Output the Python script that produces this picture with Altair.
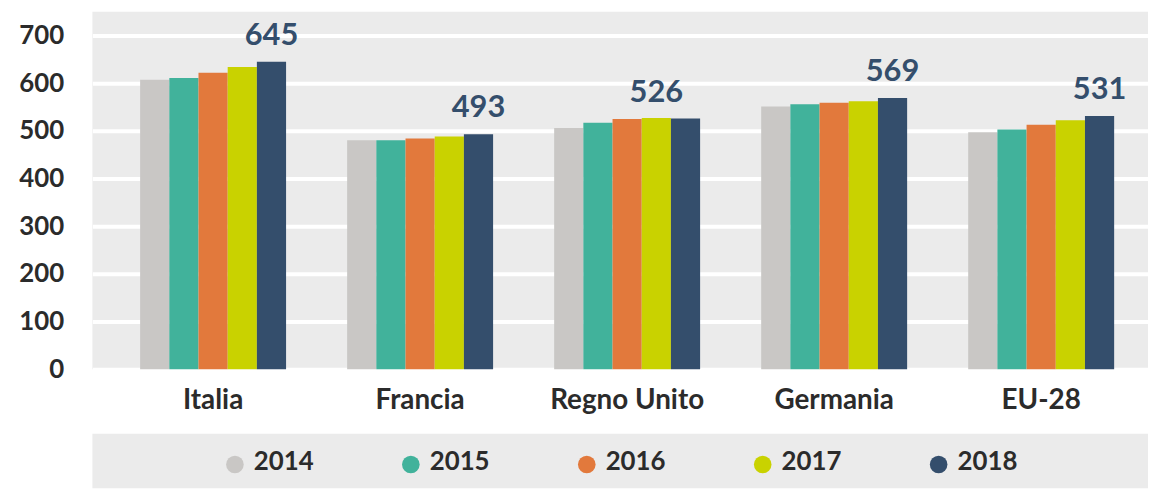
import altair as alt
import pandas as pd

countries = ["Italia", "Francia", "Regno Unito", "Germania", "EU-28"]
years = [2014, 2015, 2016, 2017, 2018]
v2014 = [607, 480, 506, 551, 497]
v2015 = [611, 480, 517, 556, 503]
v2016 = [622, 484, 525, 559, 513]
v2017 = [634, 488, 527, 562, 522]
v2018 = [645, 493, 526, 569, 531]

label_countries = ["Italia", "Francia", "Regno Unito", "Germania", "EU-28"]
label_years = [2018, 2018, 2017, 2018, 2018]
label_values = [645, 493, 526, 569, 531]

colors = ["#c9c7c5", "#41b29b", "#e2793c", "#c9d200", "#344e6c"]
y_ticks = [0, 100, 200, 300, 400, 500, 600, 700]

series = [v2014, v2015, v2016, v2017, v2018]
rows = []
for yi, yr in enumerate(years):
    for ci, c in enumerate(countries):
        rows.append({"country": c, "year": yr, "value": series[yi][ci]})
df = pd.DataFrame(rows)
labels = pd.DataFrame({"country": label_countries, "year": label_years, "value": label_values})
legend_df = pd.DataFrame({"year": years})

FONT = "Lato"
BG = "#ebebeb"
color_scale = alt.Scale(domain=years, range=colors)
view_bg = alt.ViewBackground(fill=BG, stroke="transparent", strokeWidth=0)

x_enc = alt.X("country:N", sort=countries,
              scale=alt.Scale(paddingInner=0.295, paddingOuter=0.197, align=0.585),
              axis=alt.Axis(title=None, labelAngle=0, labelFontSize=28, labelFont=FONT,
                            labelFontWeight="bold", labelColor="#2b2b2b", ticks=False,
                            domain=False, labelPadding=18, grid=False))
xoff = alt.XOffset("year:O", scale=alt.Scale(paddingInner=0, paddingOuter=0))
y_enc = alt.Y("value:Q", scale=alt.Scale(domain=[0, 750], nice=False),
              axis=alt.Axis(title=None, values=y_ticks, labelFontSize=26, labelFont=FONT,
                            labelFontWeight="bold", labelColor="#2b2b2b", ticks=False,
                            domain=False, labelPadding=29, grid=True, gridColor="white",
                            gridWidth=4, minExtent=85, maxExtent=85))

bars = alt.Chart(df).mark_bar().encode(
    x=x_enc, xOffset=xoff, y=y_enc,
    color=alt.Color("year:O", scale=color_scale, legend=None),
)
text = alt.Chart(labels).mark_text(font=FONT, fontWeight="bold", fontSize=31,
                                   color="#344e6c", baseline="alphabetic", dy=-17).encode(
    x=alt.X("country:N", sort=countries), xOffset="year:O", y="value:Q",
    text=alt.Text("value:Q"),
)
main = alt.layer(bars, text).properties(width=1063, height=360, view=view_bg)

leg_x = alt.X("year:O", scale=alt.Scale(type="point", padding=1.183, align=0.405), axis=None)
leg_dots = alt.Chart(legend_df).mark_point(filled=True, shape="circle", size=314, opacity=1).encode(
    x=leg_x, y=alt.value(31),
    color=alt.Color("year:O", scale=color_scale, legend=None),
)
leg_text = alt.Chart(legend_df).mark_text(font=FONT, fontWeight="bold", fontSize=26,
                                          color="#2b2b2b", align="left", baseline="middle",
                                          dx=19).encode(
    x=leg_x, y=alt.value(29), text=alt.Text("year:O"),
)
legend = alt.layer(leg_dots, leg_text).properties(width=1063, height=55, view=view_bg)

chart = alt.vconcat(main, legend, spacing=65, bounds="flush").properties(
    padding={"left": 0, "top": 2, "right": 0, "bottom": 0}
).configure_view(fill=BG, strokeWidth=0).configure(background="white")

chart.save("out.html", embed_options={"renderer": "svg", "actions": False})
